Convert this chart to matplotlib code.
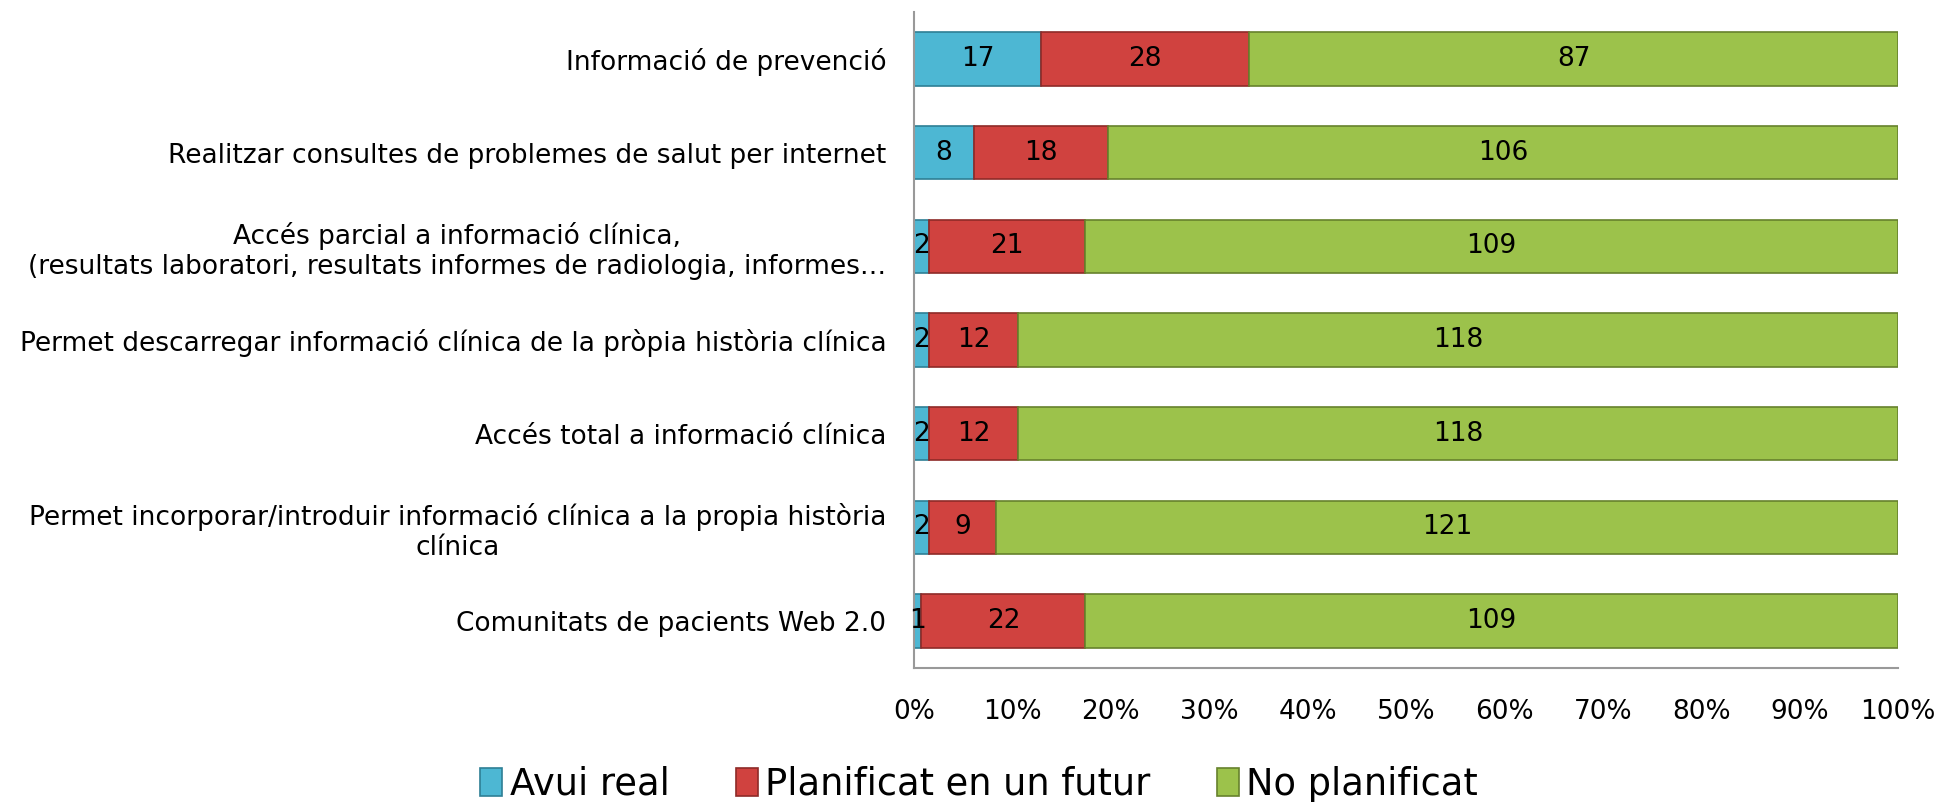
import matplotlib
matplotlib.use("Agg")
import matplotlib.pyplot as plt
import numpy as np

categories = [
    "Informació de prevenció",
    "Realitzar consultes de problemes de salut per internet",
    "Accés parcial a informació clínica,\n(resultats laboratori, resultats informes de radiologia, informes…",
    "Permet descarregar informació clínica de la pròpia història clínica",
    "Accés total a informació clínica",
    "Permet incorporar/introduir informació clínica a la propia història\nclínica",
    "Comunitats de pacients Web 2.0",
]
avui_real = [17, 8, 2, 2, 2, 2, 1]
planificat = [28, 18, 21, 12, 12, 9, 22]
no_planificat = [87, 106, 109, 118, 118, 121, 109]
series_names = ["Avui real", "Planificat en un futur", "No planificat"]
colors = ["#4DB7D3", "#D0423F", "#9CC24B"]
edges = ["#2E7F95", "#8E2A28", "#66822C"]

data = np.array([avui_real, planificat, no_planificat], dtype=float)
pct = data / data.sum(axis=0) * 100

fig = plt.figure(figsize=(19.39, 8.02), dpi=100)
ax = fig.add_axes([0.4714, 0.167, 0.5074, 0.818])

y = np.arange(len(categories))
left = np.zeros(len(categories))
handles = []
for i in range(3):
    bars = ax.barh(y, pct[i], left=left, height=0.57, color=colors[i],
                   edgecolor=edges[i], linewidth=1.2, label=series_names[i])
    handles.append(bars)
    for j in range(len(categories)):
        ax.text(left[j] + pct[i][j] / 2, y[j], str(int(data[i][j])),
                ha="center", va="center", fontsize=19, color="black")
    left += pct[i]

ax.set_ylim(len(categories) - 0.5, -0.5)
ax.set_xlim(0, 100)
ax.set_yticks(y)
ax.set_yticklabels(categories, fontsize=19)
for lab in ax.get_yticklabels():
    lab.set_multialignment("center")
ax.set_xticks(np.arange(0, 101, 10))
ax.set_xticklabels(["%d%%" % v for v in range(0, 101, 10)], fontsize=19)
ax.tick_params(axis="y", length=0, pad=20)
ax.tick_params(axis="x", length=0, pad=22)
for s in ["top", "right"]:
    ax.spines[s].set_visible(False)
for s in ["left", "bottom"]:
    ax.spines[s].set_color("#999999")
    ax.spines[s].set_linewidth(1.5)

fig.legend(handles=handles, labels=series_names, loc="lower center",
           bbox_to_anchor=(0.505, -0.042), ncol=3, frameon=False,
           fontsize=26.5, handlelength=0.6, handleheight=0.8,
           handletextpad=0.2, columnspacing=1.8)

fig.savefig("out.png", dpi=100)
